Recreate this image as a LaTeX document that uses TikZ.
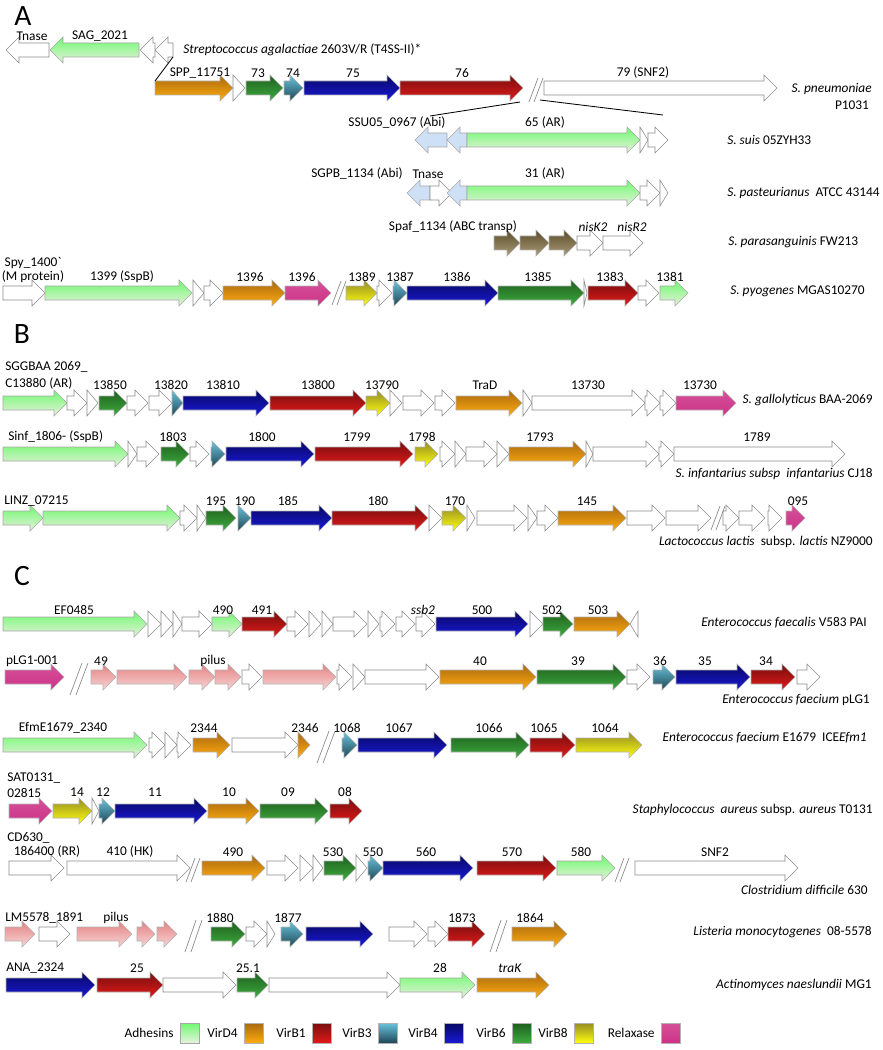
\documentclass[tikz,border=0pt]{standalone}
\usepackage{fontspec}
\setmainfont{Carlito}
\usetikzlibrary{positioning}

\definecolor{adhTop}{RGB}{110,250,110}
\definecolor{adhBot}{RGB}{232,240,222}
\definecolor{dTop}{RGB}{170,105,15}
\definecolor{dBot}{RGB}{255,172,15}
\definecolor{bOneTop}{RGB}{120,15,15}
\definecolor{bOneBot}{RGB}{225,25,25}
\definecolor{bThreeTop}{RGB}{105,195,220}
\definecolor{bThreeBot}{RGB}{30,70,85}
\definecolor{bFourTop}{RGB}{8,8,100}
\definecolor{bFourBot}{RGB}{25,25,215}
\definecolor{bSixTop}{RGB}{30,95,30}
\definecolor{bSixBot}{RGB}{62,172,62}
\definecolor{bEightTop}{RGB}{150,140,35}
\definecolor{bEightBot}{RGB}{255,255,15}
\definecolor{relaxCol}{RGB}{205,50,135}
\definecolor{pilTop}{RGB}{228,130,130}
\definecolor{pilBot}{RGB}{248,214,214}
\definecolor{abiCol}{RGB}{206,224,246}
\definecolor{abcTop}{RGB}{92,76,42}
\definecolor{abcBot}{RGB}{170,156,120}

% gene arrow: style, y, start x, tip x
\newcommand{\gene}[4]{%
  \pgfmathsetmacro{\gDir}{(#4>#3) ? 1 : -1}
  \pgfmathsetmacro{\gHead}{min(13,abs(#4-#3))}
  \pgfmathsetmacro{\gNeck}{#4-\gDir*\gHead}
  \path[#1] (#3,#2-7) -- (\gNeck,#2-7) -- (\gNeck,#2-13) -- (#4,#2)
    -- (\gNeck,#2+13) -- (\gNeck,#2+7) -- (#3,#2+7) -- cycle;
}
% break marks: x, y
\newcommand{\cutmark}[2]{%
  \draw[cutline] (#1,#2+12) -- (#1+9,#2-12) (#1+5,#2+12) -- (#1+14,#2-12);
}

\begin{document}
\begin{tikzpicture}[x=0.025cm,y=-0.025cm,
  font=\fontsize{9.5}{11.5}\selectfont,
  lbl/.style={inner sep=0pt},
  big/.style={inner sep=0pt,font=\fontsize{21}{24}\selectfont},
  gBase/.style={draw=black!30,line width=0.4pt},
  gNone/.style={draw=black!45,line width=0.4pt,fill=white},
  gAdh/.style={gBase,draw=black!35,top color=adhTop,bottom color=adhBot},
  gD4/.style={gBase,top color=dTop,bottom color=dBot},
  gB1/.style={gBase,top color=bOneTop,bottom color=bOneBot},
  gB3/.style={gBase,top color=bThreeTop,bottom color=bThreeBot},
  gB4/.style={gBase,top color=bFourTop,bottom color=bFourBot},
  gB6/.style={gBase,top color=bSixTop,bottom color=bSixBot},
  gB8/.style={gBase,top color=bEightTop,bottom color=bEightBot},
  gRel/.style={gBase,top color=relaxCol!85!white,bottom color=relaxCol},
  gPil/.style={gBase,top color=pilTop,bottom color=pilBot},
  gAbi/.style={draw=black!35,line width=0.4pt,fill=abiCol},
  gABC/.style={gBase,top color=abcTop,bottom color=abcBot},
  cutline/.style={draw=black!45,line width=0.5pt},
  keybox/.style={minimum width=0.475cm,minimum height=0.5cm,inner sep=0pt}]

\useasboundingbox (0,0) rectangle (882,1050);

% ---------------- panel A ----------------
\node[big] (pA) at (23,16) {A};

% S. agalactiae
\foreach \s/\a/\b in {gNone/49/6,gAdh/139/50,gNone/155/140,gNone/173/155}
  {\gene{\s}{50}{\a}{\b}}
\foreach \x/\t [count=\i] in {32/Tnase,100/SAG\_2021}
  \node[lbl] (A0-\i) at (\x,36) {\t};
\node[lbl,anchor=west] (spA0) at (183,50) {\textit{Streptococcus agalactiae} 2603V/R (T4SS-II)*};

% S. pneumoniae
\foreach \s/\a/\b in {gD4/155/233,gNone/233/245,gB6/246/283,gB3/284/303,
  gB4/304/400,gB1/400/523,gNone/544/777}
  {\gene{\s}{88}{\a}{\b}}
\cutmark{529}{90}
\foreach \x/\t [count=\i] in {200/SPP\_11751,258/73,293/74,353/75,462/76,643/79 (SNF2)}
  \node[lbl] (A1-\i) at (\x,73) {\t};
\node[lbl,anchor=east] (spA1) at (872,89) {\textit{S. pneumoniae}};
\node[lbl] (spA1b) at (852,105) {P1031};

% zoom lines
\coordinate (zA) at (173,57);
\coordinate (zB) at (155,81);
\coordinate (zC) at (520,102);
\coordinate (zD) at (430,116);
\coordinate (zE) at (540,100);
\coordinate (zF) at (663,115);
\draw[line width=0.6pt] (zA) -- (zB) (zC) -- (zD) (zE) -- (zF);

% S. suis
\foreach \s/\a/\b in {gAbi/447/415,gAbi/467/447,gAdh/467/640,gNone/640/648,gNone/648/668}
  {\gene{\s}{140}{\a}{\b}}
\foreach \x/\t [count=\i] in {397/SSU05\_0967 (Abi),545/65 (AR)}
  \node[lbl] (A2-\i) at (\x,123) {\t};
\node[lbl,anchor=west] (spA2) at (727,140) {\textit{S. suis} 05ZYH33};

% S. pasteurianus
\foreach \s/\a/\b in {gAbi/430/407,gNone/430/452,gAbi/467/447,gAdh/467/640,
  gNone/640/660,gNone/660/668}
  {\gene{\s}{193}{\a}{\b}}
\foreach \x/\t [count=\i] in {357/SGPB\_1134 (Abi),428/Tnase,545/31 (AR)}
  \node[lbl] (A3-\i) at (\x,174) {\t};
\node[lbl,anchor=west] (spA3) at (727,193) {\textit{S. pasteurianus}\ \ ATCC 43144};

% S. parasanguinis
\foreach \s/\a/\b in {gABC/494/520,gABC/520/549,gABC/549/577,gNone/577/603,gNone/603/643}
  {\gene{\s}{243}{\a}{\b}}
\foreach \x/\t [count=\i] in {453/Spaf\_1134 (ABC transp),593/\textit{nisK2},632/\textit{nisR2}}
  \node[lbl] (A4-\i) at (\x,227) {\t};
\node[lbl,anchor=west] (spA4) at (728,242) {\textit{S. parasanguinis} FW213};

% S. pyogenes
\foreach \s/\a/\b in {gNone/3/45,gAdh/45/192,gNone/193/204,gNone/204/223,gD4/223/285,
  gRel/285/331,gB8/346/377,gNone/377/392,gB3/393/407,gB4/407/498,gB6/498/584,
  gNone/584/587,gB1/588/638,gNone/638/659,gAdh/660/688}
  {\gene{\s}{293}{\a}{\b}}
\cutmark{332}{293}
\node[lbl] (A5-0) at (33,263) {Spy\_1400\textasciigrave};
\foreach \x/\t [count=\i] in {33/(M protein),122/1399 (SspB),250/1396,302/1396,362/1389,
  400/1387,457/1386,538/1385,610/1383,670/1381}
  \node[lbl] (A5-\i) at (\x,277) {\t};
\node[lbl,anchor=west] (spA5) at (730,291) {\textit{S. pyogenes} MGAS10270};

% ---------------- panel B ----------------
\node[big] (pB) at (22,334) {B};

% S. gallolyticus
\foreach \s/\a/\b in {gAdh/3/67,gNone/67/87,gNone/87/98,gB6/99/127,gNone/127/148,
  gNone/149/172,gB3/172/183,gB4/183/269,gB1/270/366,gB8/366/390,gNone/390/402,
  gNone/403/434,gNone/435/455,gD4/456/522,gNone/523/532,gNone/532/645,
  gNone/645/660,gNone/660/676,gRel/676/736}
  {\gene{\s}{403}{\a}{\b}}
\node[lbl,anchor=west] (B1-0) at (5,367) {SGGBAA 2069\_};
\node[lbl,anchor=west] (B1-00) at (5,384) {C13880 (AR)};
\foreach \x/\t [count=\i] in {110/13850,171/13820,223/13810,318/13800,382/13790,
  485/TraD,588/13730,700/13730}
  \node[lbl] (B1-\i) at (\x,385) {\t};
\node[lbl,anchor=east] (spB1) at (873,400) {\textit{S. gallolyticus} BAA-2069};

% S. infantarius
\foreach \s/\a/\b in {gAdh/3/128,gNone/128/137,gNone/137/159,gB6/161/189,gNone/190/209,
  gB3/211/225,gB4/226/314,gB1/315/413,gB8/415/438,gNone/440/455,gNone/455/466,
  gNone/466/497,gNone/497/509,gD4/509/586,gNone/586/593,gNone/593/659,
  gNone/659/674,gNone/674/845}
  {\gene{\s}{454}{\a}{\b}}
\node[lbl,anchor=west] (B2-0) at (8,437) {Sinf\_1806- (SspB)};
\foreach \x/\t [count=\i] in {173/1803,262/1800,357/1799,422/1798,540/1793,757/1789}
  \node[lbl] (B2-\i) at (\x,437) {\t};
\node[lbl,anchor=east] (spB2) at (873,474) {\textit{S. infantarius subsp\ \ infantarius} CJ18};

% L. lactis
\foreach \s/\a/\b in {gAdh/3/43,gAdh/43/180,gNone/180/197,gNone/197/206,gB6/206/236,
  gB3/238/251,gB4/251/332,gB1/332/428,gNone/429/442,gB8/442/466,gNone/467/475,
  gNone/477/527,gNone/528/537,gNone/537/558,gD4/558/626,gNone/627/665,
  gNone/666/711,gNone/723/739,gNone/739/765,gNone/768/782,gRel/786/805}
  {\gene{\s}{518}{\a}{\b}}
\cutmark{711}{518}
\node[lbl,anchor=west] (B3-0) at (4,501) {LINZ\_07215};
\foreach \x/\t [count=\i] in {216/195,245/190,288/185,378/180,455/170,587/145,798/095}
  \node[lbl] (B3-\i) at (\x,501) {\t};
\node[lbl,anchor=east] (spB3) at (873,542) {\textit{Lactococcus lactis}\ \ subsp. \textit{lactis} NZ9000};

% ---------------- panel C ----------------
\node[big] (pC) at (22,576) {C};

% E. faecalis
\foreach \s/\a/\b in {gAdh/3/147,gNone/148/161,gNone/161/173,gNone/173/182,gNone/182/212,
  gAdh/212/242,gB1/242/287,gNone/287/308,gNone/309/321,gNone/322/333,gNone/333/367,
  gNone/368/379,gNone/380/395,gNone/396/415,gNone/416/435,gB4/436/528,
  gNone/530/543,gB6/543/573,gD4/574/630,gNone/638/630}
  {\gene{\s}{624}{\a}{\b}}
\foreach \x/\t [count=\i] in {74/EF0485,223/490,262/491,423/\textit{ssb2},482/500,552/502,598/503}
  \node[lbl] (C1-\i) at (\x,610) {\t};
\node[lbl,anchor=east] (spC1) at (867,623) {\textit{Enterococcus faecalis} V583 PAI};

% E. faecium pLG1
\foreach \s/\a/\b in {gRel/5/64,gPil/91/116,gPil/117/187,gPil/189/215,gPil/215/241,
  gNone/242/262,gPil/263/336,gNone/337/352,gNone/353/365,gNone/365/439,gD4/440/536,
  gB6/537/626,gNone/627/650,gB3/653/675,gB4/676/750,gB1/751/795,gNone/797/820}
  {\gene{\s}{677}{\a}{\b}}
\draw[cutline] (70,695) -- (82,663) (76,695) -- (88,663);
\foreach \x/\t [count=\i] in {32/pLG1-001,101/49,213/pilus,480/40,578/39,660/36,705/35,766/34}
  \node[lbl] (C2-\i) at (\x,661) {\t};
\node[lbl,anchor=east] (spC2) at (870,700) {\textit{Enterococcus faecium} pLG1};

% E. faecium E1679
\foreach \s/\a/\b in {gAdh/3/147,gNone/149/165,gNone/165/177,gNone/177/191,gD4/193/230,
  gNone/232/298,gD4/298/310,gB3/342/357,gB4/358/447,gB6/451/529,gB1/530/575,gB8/576/642}
  {\gene{\s}{745}{\a}{\b}}
\draw[cutline] (317,763) -- (329,731) (323,763) -- (335,731);
\foreach \x/\t [count=\i] in {63/EfmE1679\_2340,204/2344,305/2346,347/1068,399/1067,
  489/1066,544/1065,605/1064}
  \node[lbl] (C3-\i) at (\x,728) {\t};
\node[lbl,anchor=east] (spC3) at (867,738) {\textit{Enterococcus faecium} E1679\ \ ICE\textit{Efm1}};

% S. aureus
\foreach \s/\a/\b in {gRel/9/52,gB8/53/92,gNone/92/99,gB3/99/115,gB4/115/207,
  gD4/208/259,gB6/260/328,gB1/330/362}
  {\gene{\s}{811}{\a}{\b}}
\node[lbl,anchor=west] (C4-0) at (7,778) {SAT0131\_};
\node[lbl,anchor=west] (C4-00) at (7,793) {02815};
\foreach \x/\t [count=\i] in {77/14,103/12,155/11,229/10,288/09,345/08}
  \node[lbl] (C4-\i) at (\x,792) {\t};
\node[lbl,anchor=east] (spC4) at (873,810) {\textit{Staphylococcus\ \ aureus} subsp. \textit{aureus} T0131};

% C. difficile
\foreach \s/\a/\b in {gNone/9/64,gNone/67/190,gD4/202/265,gNone/267/298,gNone/300/313,
  gNone/313/323,gB6/324/356,gNone/356/367,gB3/368/383,gB4/383/473,gB1/477/556,
  gAdh/557/615,gNone/635/798}
  {\gene{\s}{868}{\a}{\b}}
\cutmark{186}{870}
\cutmark{615}{870}
\node[lbl,anchor=west] (C5-0) at (7,838) {CD630\_};
\foreach \x/\t [count=\i] in {47/186400 (RR),130/410 (HK),233/490,333/530,373/550,
  426/560,512/570,581/580,715/SNF2}
  \node[lbl] (C5-\i) at (\x,852) {\t};
\node[lbl,anchor=east] (spC5) at (868,890) {\textit{Clostridium difficile} 630};

% L. monocytogenes
\foreach \s/\a/\b in {gPil/5/35,gNone/39/70,gPil/77/132,gPil/137/155,gPil/157/177,
  gB6/211/245,gNone/246/267,gNone/267/275,gB3/281/303,gB4/306/373,gNone/389/427,
  gNone/428/448,gB1/448/485,gD4/512/567}
  {\gene{\s}{934}{\a}{\b}}
\draw[cutline] (185,952) -- (196,920) (191,952) -- (202,920);
\draw[cutline] (490,952) -- (501,920) (496,952) -- (507,920);
\node[lbl,anchor=west] (C6-0) at (5,918) {LM5578\_1891};
\foreach \x/\t [count=\i] in {116/pilus,220/1880,288/1877,462/1873,530/1864}
  \node[lbl] (C6-\i) at (\x,918) {\t};
\node[lbl,anchor=east] (spC6) at (872,932) {\textit{Listeria monocytogenes}\ \ 08-5578};

% A. naeslundii
\foreach \s/\a/\b in {gB4/6/95,gB1/97/163,gNone/163/236,gB6/237/268,gNone/269/400,
  gAdh/400/475,gD4/477/549}
  {\gene{\s}{985}{\a}{\b}}
\node[lbl,anchor=west] (C7-0) at (6,968) {ANA\_2324};
\foreach \x/\t [count=\i] in {137/25,248/25.1,440/28,510/\textit{traK}}
  \node[lbl] (C7-\i) at (\x,968) {\t};
\node[lbl,anchor=east] (spC7) at (872,985) {\textit{Actinomyces naeslundii} MG1};

% legend
\foreach \s/\t/\x [count=\i] in {gAdh/Adhesins/190,gD4/VirD4/254,gB1/VirB1/322,
  gB3/VirB3/388,gB4/VirB4/454,gB6/VirB6/522,gB8/VirB8/584,gRel/Relaxase/671}
  {\node[keybox,\s] (key-\i) at (\x,1033) {};
   \node[lbl,left=4.5pt of key-\i] (keytext-\i) {\t};}

\end{tikzpicture}
\end{document}
